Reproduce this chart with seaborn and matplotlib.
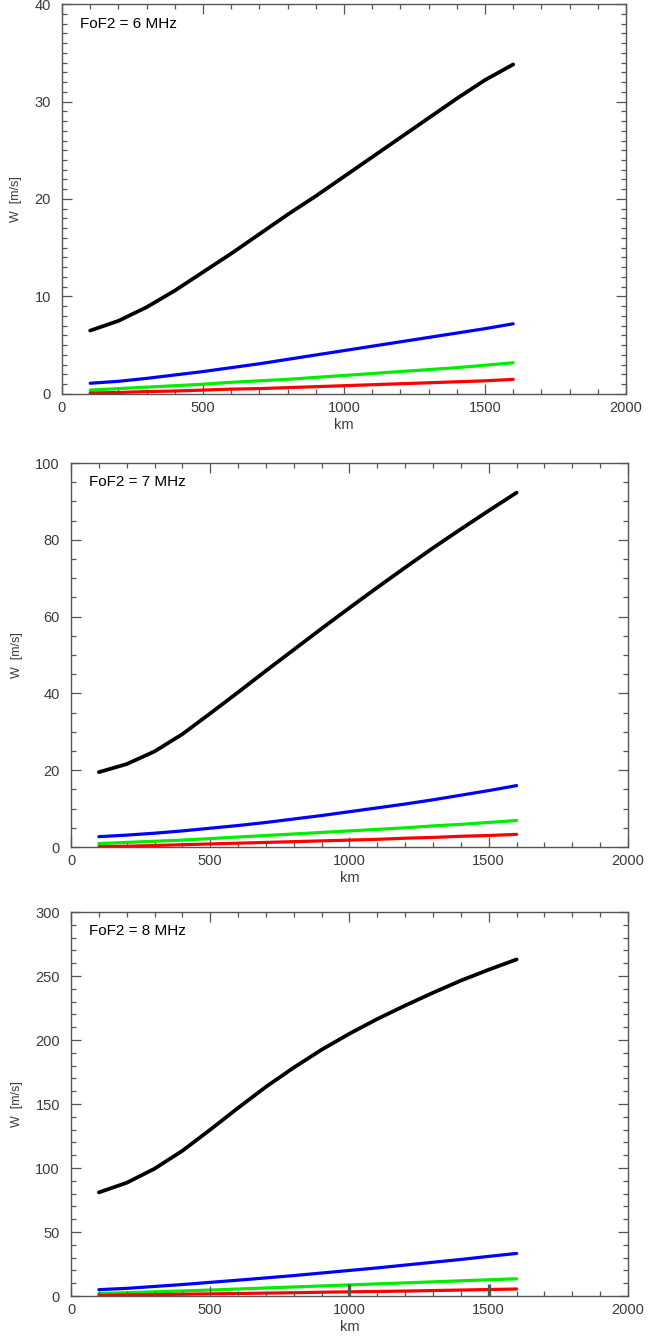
import numpy as np
import pandas as pd
import matplotlib
matplotlib.use('Agg')
import matplotlib.pyplot as plt
import seaborn as sns
from matplotlib.ticker import MultipleLocator

# distance along the path (km)
dist = [100, 200, 300, 400, 500, 600, 700, 800, 900, 1000, 1100, 1200, 1300, 1400, 1500, 1600]

# FoF2 = 6 MHz
w6_black = [6.5, 7.5, 8.9, 10.6, 12.5, 14.4, 16.4, 18.4, 20.3, 22.3, 24.3, 26.3, 28.3, 30.3, 32.2, 33.8]
w6_blue = [1.1, 1.3, 1.6, 1.95, 2.3, 2.7, 3.1, 3.55, 4.0, 4.45, 4.9, 5.35, 5.8, 6.25, 6.7, 7.2]
w6_green = [0.4, 0.55, 0.7, 0.85, 1.0, 1.2, 1.35, 1.5, 1.7, 1.9, 2.1, 2.3, 2.5, 2.7, 2.95, 3.2]
w6_red = [0.1, 0.15, 0.25, 0.3, 0.4, 0.5, 0.55, 0.65, 0.75, 0.85, 0.95, 1.05, 1.15, 1.25, 1.35, 1.5]

# FoF2 = 7 MHz
w7_black = [19.5, 21.6, 24.9, 29.4, 34.8, 40.3, 45.9, 51.4, 56.9, 62.3, 67.6, 72.8, 77.9, 82.8, 87.6, 92.3]
w7_blue = [2.7, 3.1, 3.6, 4.2, 4.9, 5.6, 6.4, 7.3, 8.2, 9.2, 10.2, 11.2, 12.3, 13.5, 14.7, 16.0]
w7_green = [0.9, 1.2, 1.5, 1.8, 2.2, 2.6, 3.0, 3.4, 3.8, 4.2, 4.6, 5.0, 5.5, 5.9, 6.4, 6.9]
w7_red = [0.1, 0.2, 0.4, 0.6, 0.8, 1.0, 1.2, 1.4, 1.6, 1.8, 2.0, 2.3, 2.5, 2.8, 3.0, 3.3]

# FoF2 = 8 MHz
w8_black = [81, 88.5, 99.5, 113.5, 130, 147, 163.5, 178.5, 192.5, 205, 216.5, 227, 237, 246.5, 255, 263]
w8_blue = [5.0, 6.0, 7.5, 9.0, 10.7, 12.4, 14.2, 16.0, 18.0, 20.0, 22.0, 24.2, 26.4, 28.6, 31.0, 33.3]
w8_green = [2.0, 2.6, 3.3, 4.0, 4.7, 5.5, 6.3, 7.1, 7.9, 8.7, 9.5, 10.3, 11.1, 11.9, 12.7, 13.5]
w8_red = [0.5, 0.8, 1.1, 1.4, 1.7, 2.0, 2.3, 2.6, 3.0, 3.3, 3.6, 3.9, 4.3, 4.7, 5.1, 5.5]

titles = ['FoF2 = 6 MHz', 'FoF2 = 7 MHz', 'FoF2 = 8 MHz']
ymax = [40, 100, 300]
ymajor = [10, 20, 50]
yminor = [1, 5, 10]

sns.set_theme(style='ticks')
plt.rcParams['font.family'] = ['Liberation Sans', 'DejaVu Sans']

fig = plt.figure(figsize=(6.68, 13.36), dpi=100)
boxes = [[0.0928, 0.7051, 0.8443, 0.2919],
         [0.1063, 0.3660, 0.8338, 0.2874],
         [0.1063, 0.0299, 0.8338, 0.2874]]

panels = [(w6_black, w6_blue, w6_green, w6_red),
          (w7_black, w7_blue, w7_green, w7_red),
          (w8_black, w8_blue, w8_green, w8_red)]
colors = ['black', '#0000ff', '#00ee00', '#ff0000']
widths = [2.7, 2.3, 2.3, 2.3]
axcol = '#555555'

for i in range(3):
    ax = fig.add_axes(boxes[i])
    for k in range(4):
        sns.lineplot(x=dist, y=panels[i][k], color=colors[k], lw=widths[k], ax=ax)
    ax.set_xlim(0, 2000)
    ax.set_ylim(0, ymax[i])
    ax.xaxis.set_major_locator(MultipleLocator(500))
    ax.xaxis.set_minor_locator(MultipleLocator(100))
    ax.yaxis.set_major_locator(MultipleLocator(ymajor[i]))
    ax.yaxis.set_minor_locator(MultipleLocator(yminor[i]))
    ax.tick_params(which='both', direction='in', top=True, right=True,
                   color=axcol, width=0.9, labelcolor='#3a3a3a', labelsize=10.5)
    ax.tick_params(which='major', length=7.5)
    ax.tick_params(which='minor', length=3.8)
    ax.tick_params(axis='x', pad=5)
    ax.tick_params(axis='y', pad=8)
    for s in ax.spines.values():
        s.set_color(axcol)
        s.set_linewidth(1.0)
    ax.set_xlabel('km', fontsize=10.5, color='#3a3a3a', labelpad=2)
    ax.set_ylabel('W  [m/s]', fontsize=9, color='#3a3a3a', labelpad=9)
    ax.text(0.032, 0.95, titles[i], transform=ax.transAxes, fontsize=11,
            ha='left', va='center', color='black')

# bottom panel: the 1000 and 1500 bottom ticks are drawn black and heavier, over the lines
ax3 = fig.axes[2]
ax3.set_axisbelow(False)
fig.canvas.draw()
for t in ax3.xaxis.get_major_ticks():
    if t.get_loc() in (1000, 1500):
        t.tick1line.set_color('black')
        t.tick1line.set_markeredgewidth(2.4)
        t.tick1line.set_markersize(9)

plt.savefig('out.png', dpi=100)
